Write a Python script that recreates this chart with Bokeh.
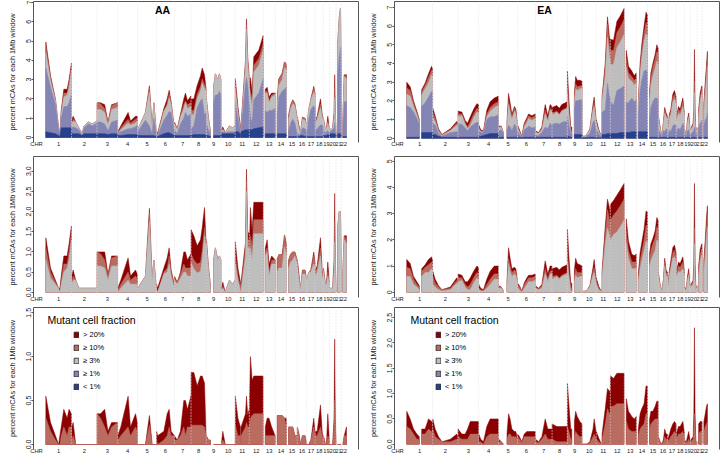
from bokeh.plotting import figure
from bokeh.layouts import gridplot
from bokeh.models import FixedTicker, LinearAxis, Span, Label, Legend, LegendItem, Range1d
from bokeh.embed import file_html
from bokeh.resources import INLINE

# ---------------- data ----------------
CHROM_NAMES = [str(i) for i in range(1, 23)]
CHROM_SIZES = [249.25, 243.20, 198.02, 191.15, 180.92, 171.12, 159.14, 146.36, 141.21, 135.53,
               135.01, 133.85, 115.17, 107.35, 102.53, 90.35, 81.20, 78.08, 59.13, 63.03, 48.13, 51.30]
CLASS_LABELS = ["< 1%", "\u2265 1%", "\u2265 3%", "\u2265 10%", "> 20%"]

# rows: (chromosome, segment, position Mb, <1%, >=1%, >=3%, >=10%, >20%)  -- percent mCAs per 1Mb window
AA_MCA = [
    (1, 1, 3, .30, 3.30, .80, .30, .25), (1, 1, 48, .25, 2.35, .35, .15, .10), (1, 1, 95, .20, 1.50, .20, .05, .05),
    (1, 1, 125, .10, .30, .10, 0, 0), (1, 1, 137, .05, 0, 0, 0, .10), (1, 1, 150, .50, .50, .20, .10, .10),
    (1, 1, 175, .50, 1.10, .50, .20, .20), (1, 1, 207, .50, 1.10, .60, .10, .20), (1, 1, 225, .50, 1.30, .80, .20, .20),
    (1, 1, 248, .50, 1.70, 1.30, .20, .15),
    (2, 1, 2, .20, .30, .20, .05, .15), (2, 1, 15, .20, .35, .30, .10, .15), (2, 1, 40, .20, .30, .30, 0, 0),
    (2, 1, 70, .20, .20, .10, 0, 0), (2, 1, 100, .10, 0, .10, 0, 0), (2, 1, 120, .20, .30, .10, 0, 0),
    (2, 1, 160, .20, .50, .10, 0, 0), (2, 1, 200, .20, .40, .10, 0, 0), (2, 1, 242, .20, .55, .10, 0, 0),
    (3, 1, 1, .20, .60, .65, .35, 0), (3, 1, 35, .20, .60, .65, .30, .05), (3, 1, 74, .20, .50, .60, .20, .20),
    (3, 1, 105, .15, .20, .30, .10, .05), (3, 1, 140, .20, .60, .65, .20, .05), (3, 1, 197, .20, .70, .65, .25, 0),
    (4, 1, 1, .10, .10, 0, .05, .05), (4, 1, 30, .10, .20, .10, .10, .10), (4, 1, 100, .15, .30, .30, .20, .35),
    (4, 1, 123, .15, .30, .20, .10, .10), (4, 1, 171, .15, .40, .20, .20, .15), (4, 1, 188, .15, .50, .20, .15, .10),
    (5, 1, 1, .10, .20, .10, 0, 0), (5, 1, 75, .10, .80, .40, 0, 0), (5, 1, 113, .10, .50, 1.75, .22, .11),
    (5, 1, 139, .10, .10, .30, 0, 0), (5, 1, 155, .10, .90, .80, 0, 0), (5, 1, 180, .05, .10, .10, 0, 0),
    (6, 1, 1, .05, .10, .05, .05, .10), (6, 1, 10, .05, .05, 0, 0, .10), (6, 1, 70, .20, .70, .45, .05, .10),
    (6, 1, 102, .25, .90, .50, .10, .25), (6, 1, 121, .25, 1.10, .70, .20, .20), (6, 1, 140, .20, 1.10, .40, .10, .05),
    (6, 1, 170, .10, .20, .10, .10, 0),
    (7, 1, 1, .10, .30, .30, .05, .05), (7, 1, 27, .10, .10, .20, .05, 0), (7, 1, 58, .10, .60, .35, .10, .05),
    (7, 1, 90, .10, .90, .50, .20, .30), (7, 1, 106, .10, 1.20, .50, .10, .40), (7, 1, 125, .10, 1.00, .40, .20, .20),
    (7, 1, 158, .10, 1.10, .40, .20, .35),
    (8, 1, 1, .10, .35, .73, .22, .60), (8, 1, 27, .15, .45, .58, .22, .60), (8, 1, 59, .15, 1.40, .48, .22, .45),
    (8, 1, 91, .15, 1.75, .52, .22, .56), (8, 1, 107, .15, 1.85, .82, .22, .56), (8, 1, 129, .15, 1.00, 1.40, .20, .50),
    (8, 1, 145, .10, 1.20, 1.10, .10, 0),
    (9, 1, 1, .10, .60, 1.20, .10, 0), (9, 1, 20, .10, .30, .60, .05, 0), (9, 1, 40, .05, .10, .10, .05, 0),
    (9, 2, 70, .10, 1.70, .80, 0, 0), (9, 2, 87, .10, 2.10, 1.10, 0, 0), (9, 2, 110, .10, 2.10, .80, 0, 0),
    (9, 2, 125, .10, 2.30, .90, 0, 0), (9, 2, 140, .10, 2.10, .80, 0, 0),
    (10, 1, 1, .20, .10, .05, 0, 0), (10, 1, 17, .20, .10, .10, .05, .10), (10, 1, 40, .20, .05, 0, 0, 0),
    (10, 1, 80, .20, .10, .30, 0, 0), (10, 1, 110, .20, .10, .20, 0, 0), (10, 1, 135, .20, .10, .30, 0, 0),
    (11, 1, 1, .30, 1.50, .70, .22, .33), (11, 1, 26, .30, .70, .30, .10, .20), (11, 1, 50, .20, .10, .05, .10, .10),
    (11, 2, 56, .30, .10, .05, .10, .10), (11, 2, 99, .40, 2.40, .90, .20, .15), (11, 2, 108, .40, 2.70, 2.50, .25, .30),
    (11, 2, 120, .40, 2.30, 1.10, .20, .13), (11, 2, 134, .40, 1.30, 1.10, .20, .20),
    (12, 1, 1, .40, 1.30, .80, .22, .25), (12, 1, 11, .40, .60, 1.10, .30, .70), (12, 1, 27, .40, .40, .80, .33, .40),
    (12, 1, 43, .45, 1.50, 1.45, .35, .43), (12, 1, 91, .50, 1.80, 1.45, .35, .43), (12, 1, 132, .55, 2.50, 1.45, .35, .43),
    (13, 1, 19, .20, 1.20, .90, .10, .10), (13, 1, 37, .20, 1.10, 1.00, .10, .20), (13, 1, 55, .20, 1.20, .40, .10, .20),
    (13, 1, 80, .20, 1.20, .70, .10, .10), (13, 1, 114, .20, 1.30, .70, .10, 0),
    (14, 1, 19, .20, 1.00, .50, .33, 0), (14, 1, 33, .20, 1.90, .60, .33, 0), (14, 1, 65, .20, 2.20, .60, .33, 0),
    (14, 1, 88, .20, 2.30, 1.12, .30, 0), (14, 1, 106, .20, 2.40, .90, .20, .10),
    (15, 1, 20, .05, .30, .60, .20, 0), (15, 1, 40, .05, .70, .75, .20, 0), (15, 1, 60, .05, .90, .80, .20, 0),
    (15, 1, 80, .05, .70, .90, .10, 0), (15, 1, 101, .05, .20, .70, .10, 0),
    (16, 1, 1, .05, .20, .60, .20, 0), (16, 1, 20, .05, .10, .25, .10, 0), (16, 1, 30, .10, .05, .05, 0, 0),
    (16, 1, 50, .10, .40, .45, .10, 0), (16, 1, 75, .05, .40, .45, .10, 0), (16, 1, 90, .05, .30, .30, 0, 0),
    (17, 1, 1, .05, .20, .30, 0, 0), (17, 1, 20, .05, .90, .50, 0, 0), (17, 1, 40, .05, 1.40, .50, .05, 0),
    (17, 1, 68, .05, 1.60, .70, .20, .10), (17, 1, 80, .05, 1.50, .60, .10, .05),
    (18, 1, 1, .05, .30, .40, .10, .05), (18, 1, 19, .05, .40, .50, .10, .05), (18, 1, 51, .05, .60, .90, .20, .25),
    (18, 1, 67, .05, .60, .40, .10, .05), (18, 1, 78, .05, .50, .35, .05, 0),
    (19, 1, 1, .10, .30, .50, .10, 0), (19, 1, 20, .10, .10, .20, 0, 0), (19, 1, 30, .10, .20, .20, 0, 0),
    (19, 1, 43, .15, .20, .40, .10, .25), (19, 1, 58, .10, .10, .20, .05, 0),
    (20, 1, 1, .20, .10, .10, 0, 0), (20, 1, 30, .20, .20, .10, 0, 0), (20, 1, 44, .20, .30, .50, .20, .10),
    (20, 1, 50, .20, .60, 1.25, .50, .70), (20, 1, 56, .20, .30, .50, .20, .10), (20, 1, 63, .10, .10, .10, 0, 0),
    (21, 1, 15, .20, 3.00, 1.60, 0, 0), (21, 1, 30, .20, 4.00, 2.00, 0, 0), (21, 1, 42, .20, 4.50, 2.00, 0, 0),
    (21, 1, 48, .20, 3.00, 1.00, 0, 0),
    (22, 1, 17, .05, .40, .50, 0, 0), (22, 1, 30, .05, 1.80, 1.30, .10, 0), (22, 1, 51, .05, 1.80, 1.20, .10, .10),
]

EA_MCA = [
    (1, 1, 2, .05, 1.70, .60, .35, .30), (1, 1, 35, .05, 1.60, .60, .30, .20), (1, 1, 67, .05, 1.35, .30, .20, .10),
    (1, 1, 99, .05, 1.00, .20, .10, .10), (1, 1, 122, .05, .70, .10, .10, .05),
    (1, 2, 145, .30, 1.40, .60, .20, .10), (1, 2, 178, .30, 1.60, .75, .20, .10), (1, 2, 210, .30, 1.90, .75, .30, .20),
    (1, 2, 240, .30, 2.20, .90, .25, .20), (1, 2, 249, .30, 2.20, .80, .25, .20),
    (2, 1, 2, .20, .60, .30, .30, .20), (2, 1, 25, .20, .50, .20, .15, .15), (2, 1, 57, .10, .15, .10, .10, .05),
    (2, 1, 90, .05, .05, .05, .05, 0), (2, 1, 170, .05, .25, .10, .05, .05), (2, 1, 232, .05, .30, .35, .10, .10),
    (2, 1, 243, .05, .30, .30, .10, .05),
    (3, 1, 1, .05, .70, .40, .15, .15), (3, 1, 37, .05, .70, .45, .10, .10), (3, 1, 69, .05, .50, .20, .10, .10),
    (3, 1, 92, .05, .35, .10, .10, .20), (3, 1, 118, .05, .55, .10, .20, .25), (3, 1, 150, .05, .70, .35, .20, .25),
    (3, 1, 181, .05, .80, .55, .20, .25), (3, 1, 197, .05, .80, .50, .20, .25),
    (4, 1, 1, .10, .30, .10, .05, .15), (4, 1, 20, .10, .20, .05, .05, .05), (4, 1, 46, .15, .15, .05, 0, .05),
    (4, 1, 78, .20, .80, .15, .15, .20), (4, 1, 110, .25, .90, .30, .20, .30), (4, 1, 150, .25, .90, .50, .20, .30),
    (4, 1, 188, .25, 1.00, .50, .20, .30),
    (5, 1, 1, .05, .35, .15, .05, .05), (5, 1, 25, .05, .40, .15, .05, 0), (5, 1, 46, .05, .20, .05, 0, 0),
    (5, 2, 80, .05, .40, .20, .10, .10), (5, 2, 95, .05, .65, 1.10, .20, .40), (5, 2, 110, .05, .55, .80, .20, .30),
    (5, 2, 127, .05, .35, .60, .15, .15), (5, 2, 152, .05, .70, .70, .15, .10), (5, 2, 165, .05, .60, .65, .15, .10),
    (5, 2, 180, .05, .30, .35, .10, 0),
    (6, 1, 1, .05, .30, .15, .15, .05), (6, 1, 19, .05, .15, .10, .10, .05), (6, 1, 41, .02, .03, 0, .03, .02),
    (6, 1, 64, .05, .40, .15, .15, .05), (6, 1, 90, .05, .50, .30, .15, .10), (6, 1, 106, .05, .60, .40, .15, .10),
    (6, 1, 138, .05, .50, .40, .15, .10), (6, 1, 170, .05, .55, .45, .15, .10),
    (7, 1, 1, .05, .10, .15, .05, .05), (7, 1, 30, .05, .10, .10, .03, .02), (7, 1, 62, .05, .25, .15, .10, .05),
    (7, 1, 94, .05, .55, .70, .20, .30), (7, 1, 119, .05, .45, .40, .10, .20), (7, 1, 141, .05, .75, .70, .10, .20),
    (7, 1, 159, .05, .65, .70, .10, .20),
    (8, 1, 1, .05, .70, .50, .10, .30), (8, 1, 46, .05, .75, .60, .05, .30), (8, 1, 70, .05, .70, .50, .05, .30),
    (8, 1, 94, .05, .80, .60, .05, .30), (8, 1, 146, .05, .85, .70, .05, .30),
    (9, 1, 1, .10, 1.10, 1.20, .35, .85), (9, 1, 15, .10, .60, .60, .25, .55), (9, 1, 33, .05, .20, .05, .10, .20),
    (9, 1, 43, .05, .20, .05, .10, .20),
    (9, 2, 68, .20, 1.35, .40, .15, .30), (9, 2, 80, .20, 1.80, .65, .25, .40), (9, 2, 95, .20, 1.80, .55, .20, .35),
    (9, 2, 120, .20, 1.85, .60, .15, .30), (9, 2, 141, .20, 1.85, .60, .15, .25),
    (10, 1, 1, .02, .05, .03, 0, 0), (10, 1, 38, .02, .05, .05, 0, 0), (10, 1, 43, .02, .10, .05, 0, 0),
    (10, 1, 75, .05, .20, .20, .03, .02), (10, 1, 105, .05, .80, .65, .15, .15), (10, 1, 116, .05, .90, .75, .20, .30),
    (10, 1, 135, .05, .40, .30, .10, .15),
    (11, 1, 1, .05, .40, .30, .10, .15), (11, 1, 25, .03, .20, .10, .05, .07), (11, 1, 50, .02, .05, .03, 0, 0),
    (11, 2, 56, .20, 1.20, .60, .10, .10), (11, 2, 86, .20, 1.30, 1.80, .40, .30), (11, 2, 108, .25, 2.70, 2.45, .70, .40),
    (11, 2, 125, .25, 2.00, 2.20, .60, .45), (11, 2, 134, .25, 1.90, 2.00, .60, .45),
    (12, 1, 1, .25, 1.70, 2.00, .75, .60), (12, 1, 31, .25, 1.50, 2.20, .75, .55), (12, 1, 63, .25, 2.30, 2.30, .80, .60),
    (12, 1, 95, .30, 2.35, 2.50, .80, .60), (12, 1, 132, .30, 2.50, 2.75, .80, .60),
    (13, 1, 19, .30, 1.60, 1.90, .45, .45), (13, 1, 40, .30, 1.60, 1.30, .30, .35), (13, 1, 72, .35, 1.80, .90, .25, .30),
    (13, 1, 95, .35, 1.60, .90, .25, .25), (13, 1, 115, .35, 1.70, .90, .25, .30),
    (14, 1, 19, .35, .90, .40, .15, .15), (14, 1, 36, .35, 2.15, .90, .30, .30), (14, 1, 52, .35, 2.75, 1.20, .35, .35),
    (14, 1, 74, .35, 3.25, 1.60, .40, .40), (14, 1, 93, .35, 3.30, 1.95, .60, .55), (14, 1, 106, .35, 3.20, 1.90, .60, .55),
    (15, 1, 20, .05, 1.00, 1.00, .30, .20), (15, 1, 32, .05, 1.60, 1.20, .40, .25), (15, 1, 51, .05, 1.90, 1.40, .45, .20),
    (15, 1, 73, .05, 2.10, 1.60, .50, .25), (15, 1, 89, .05, 2.10, 2.00, .50, .35), (15, 1, 102, .05, 2.00, 1.90, .50, .35),
    (16, 1, 1, .05, .40, .60, .10, .05), (16, 1, 18, .05, .25, .25, .05, 0), (16, 1, 35, .02, .05, .03, 0, 0),
    (16, 1, 50, .05, .35, .40, .05, .05), (16, 1, 62, .05, .30, 1.00, .15, .15), (16, 1, 75, .05, .45, .65, .10, .10),
    (16, 1, 90, .05, .40, .55, .10, .10),
    (17, 1, 1, .02, .10, .10, .05, .05), (17, 1, 17, .05, .40, .65, .10, .10), (17, 1, 30, .05, .30, .90, .15, .15),
    (17, 1, 49, .05, .60, 1.30, .20, .20), (17, 1, 65, .05, .70, 1.35, .25, .20), (17, 1, 81, .05, .65, 1.10, .20, .20),
    (18, 1, 1, .05, .30, .55, .10, .10), (18, 1, 22, .05, .50, .80, .20, .15), (18, 1, 38, .05, .40, .75, .20, .15),
    (18, 1, 64, .05, .75, .90, .25, .20), (18, 1, 78, .05, .50, .60, .15, .10),
    (19, 1, 1, .05, .20, .15, .05, .05), (19, 1, 18, .02, .10, .05, .03, 0), (19, 1, 30, .05, .35, .45, .05, .10),
    (19, 1, 42, .05, .40, .65, .10, .15), (19, 1, 58, .02, .10, .05, .03, 0),
    (20, 1, 1, .02, .20, .20, .05, .03), (20, 1, 25, .05, .30, .30, .10, .05), (20, 1, 32, .05, .40, .50, .30, .30),
    (20, 1, 38, .05, .55, 1.85, .60, 1.70), (20, 1, 44, .05, .40, .50, .30, .30), (20, 1, 52, .02, .10, .05, .03, 0),
    (20, 1, 63, .02, .30, .20, .05, 0),
    (21, 1, 15, .05, .50, .60, .20, .20), (21, 1, 30, .05, .75, 1.20, .25, .20), (21, 1, 45, .05, .90, 1.40, .25, .20),
    (21, 1, 48, .05, .90, 1.40, .25, .20),
    (22, 1, 17, .05, .60, .80, .25, .20), (22, 1, 30, .05, .95, 1.40, .35, .25), (22, 1, 42, .05, 1.00, 2.10, .40, .35),
    (22, 1, 51, .05, 1.30, 2.50, .45, .35),
]

AA_Y_TICKS = [[0, 1, 2, 3, 4, 5, 6, 7], [0, 0.5, 1, 1.5, 2, 2.5, 3], [0, 0.5, 1, 1.5]]
EA_Y_TICKS = [[0, 1, 2, 3, 4, 5, 6, 7], [0, 1, 2, 3, 4, 5], [0, 0.5, 1, 1.5, 2, 2.5]]

# ---------------- styling / layout ----------------
CLASS_COLORS = ["#27408B", "#8585B5", "#BEBEBE", "#BA6C60", "#8B0000"]
FONT = "Liberation Sans"
FRAME_COLOR = "#555555"
TEXT_COLOR = "#222222"
W = 361
LEFT, RIGHT = 33, 3
FRAME_W = W - LEFT - RIGHT
ROW_H = [150, 155, 151]
BORDER_TOP = [1, 6, 2]
BORDER_BOTTOM = [8, 8, 7]
Y_RANGES = {"AA": [(-0.26, 7.05), (-0.13, 3.365), (-0.057, 1.56)],
            "EA": [(-0.23, 7.32), (-0.20, 5.18), (-0.104, 2.70)]}
TITLE_X = {"AA": 129, "EA": 150}
LEGEND_TITLE_X = {"AA": 14, "EA": 16}
LEGEND_X = {"AA": 40, "EA": 41}

starts = []
acc = 0.0
for s in CHROM_SIZES:
    starts.append(acc)
    acc += s
GENOME = acc
PAD = 0.04 * GENOME
MB_PER_PX = (GENOME + 2 * PAD) / FRAME_W
CHR_X = -PAD + 3 * MB_PER_PX
X_TICKS = [CHR_X] + [starts[i] + CHROM_SIZES[i] / 2 for i in range(len(CHROM_NAMES))]
X_LABELS = ["CHR"] + CHROM_NAMES


def segments(rows):
    segs, order = {}, []
    for r in rows:
        key = (r[0], r[1])
        if key not in segs:
            segs[key] = []
            order.append(key)
        segs[key].append(r)
    return [segs[k] for k in order]


def fmt(t, ticks):
    if any(abs(v - round(v)) > 1e-9 for v in ticks):
        return "%.1f" % t
    return "%d" % t


def make_panel(anc, rows, ticks, ri):
    first = [0, 2, 3][ri]
    frame_h = ROW_H[ri] - BORDER_TOP[ri] - BORDER_BOTTOM[ri]
    p = figure(width=W, height=ROW_H[ri], output_backend="svg", toolbar_location=None,
               x_range=Range1d(-PAD, GENOME + PAD), y_range=Range1d(*Y_RANGES[anc][ri]),
               min_border_left=LEFT, min_border_right=RIGHT,
               min_border_top=BORDER_TOP[ri], min_border_bottom=BORDER_BOTTOM[ri])
    p.outline_line_color = None
    p.xgrid.visible = False
    p.ygrid.visible = False

    segs = segments(rows)
    # cumulative layers, drawn from the top class down so each lower class overlays
    for j in range(4, first - 1, -1):
        xs_list, ys_list = [], []
        for seg in segs:
            xs = [starts[r[0] - 1] + r[2] for r in seg]
            tops = [sum(r[3 + k] for k in range(first, j + 1)) for r in seg]
            xs_list.append(xs + [xs[-1], xs[0]])
            ys_list.append(tops + [0, 0])
        p.patches(xs_list, ys_list, fill_color=CLASS_COLORS[j], line_color=CLASS_COLORS[j], line_width=0.5)

    # chromosome boundaries
    for i in range(1, len(CHROM_SIZES)):
        p.add_layout(Span(location=starts[i], dimension="height", line_color="#E2E2E2",
                          line_dash="1 2", line_width=1))

    # x axis: chromosome names
    xa = p.xaxis[0]
    xa.ticker = FixedTicker(ticks=X_TICKS, minor_ticks=[])
    xa.major_label_overrides = {t: lab for t, lab in zip(X_TICKS, X_LABELS)}
    xa.major_label_text_font = FONT
    xa.major_label_text_font_size = "5.8px"
    xa.major_label_text_color = TEXT_COLOR
    xa.major_label_standoff = -2
    xa.major_tick_out = 0
    xa.major_tick_in = 0
    xa.minor_tick_out = 0
    xa.minor_tick_in = 0
    xa.axis_line_color = None

    ya = p.yaxis[0]
    ya.ticker = FixedTicker(ticks=ticks, minor_ticks=[])
    ya.major_label_overrides = {t: fmt(t, ticks) for t in ticks}
    ya.major_label_orientation = "vertical"
    ya.major_label_text_font = FONT
    ya.major_label_text_font_size = "7px"
    ya.major_label_text_color = TEXT_COLOR
    ya.major_label_standoff = 0
    ya.major_tick_out = 2
    ya.major_tick_in = 0
    ya.minor_tick_out = 0
    ya.minor_tick_in = 0
    ya.axis_line_color = FRAME_COLOR
    ya.major_tick_line_color = FRAME_COLOR
    ya.axis_label = "percent mCAs for each 1Mb window"
    ya.axis_label_text_font = FONT
    ya.axis_label_text_font_size = "7.3px"
    ya.axis_label_text_font_style = "normal"
    ya.axis_label_text_color = TEXT_COLOR
    ya.axis_label_standoff = 7

    for loc in ("above", "right"):
        ax = LinearAxis(ticker=FixedTicker(ticks=[], minor_ticks=[]), major_tick_out=0, major_tick_in=0,
                        minor_tick_out=0, minor_tick_in=0, major_label_text_font_size="0px",
                        major_label_standoff=0, axis_line_color=FRAME_COLOR)
        p.add_layout(ax, loc)

    if ri == 0:
        p.add_layout(Label(x=TITLE_X[anc], y=frame_h - 8.7, x_units="screen", y_units="screen", text=anc,
                           text_align="center", text_baseline="middle", text_font=FONT,
                           text_font_style="bold", text_font_size="10.5px", text_color="black"))
    if ri == 2:
        p.add_layout(Label(x=LEGEND_TITLE_X[anc], y=frame_h - 12, x_units="screen", y_units="screen",
                           text="Mutant cell fraction", text_align="left", text_baseline="middle",
                           text_font=FONT, text_font_size="10.5px", text_color="black"))
        items = []
        for j in range(4, -1, -1):
            r = p.quad(left=[-1e7], right=[-1e7 + 1], top=[0], bottom=[0], fill_color=CLASS_COLORS[j],
                       line_color="#222222", line_width=0.8)
            items.append(LegendItem(label=CLASS_LABELS[j], renderers=[r]))
        n = len(items)
        label_h, spacing = 9, 4
        leg_h = n * label_h + (n - 1) * spacing
        leg = Legend(items=items, location=(LEGEND_X[anc], frame_h - 22.5 - leg_h), padding=0, margin=0,
                     spacing=spacing, glyph_width=6, glyph_height=7, label_height=label_h, label_width=20,
                     label_standoff=4, label_text_font=FONT, label_text_font_size="7.5px",
                     label_text_color="black", background_fill_alpha=0, border_line_alpha=0)
        p.add_layout(leg)
    return p


grid_rows = []
for ri in range(3):
    grid_rows.append([make_panel("AA", AA_MCA, AA_Y_TICKS[ri], ri),
                      make_panel("EA", EA_MCA, EA_Y_TICKS[ri], ri)])

grid = gridplot(grid_rows, toolbar_location=None)
open("out.html", "w", encoding="utf-8").write(file_html(grid, INLINE))
